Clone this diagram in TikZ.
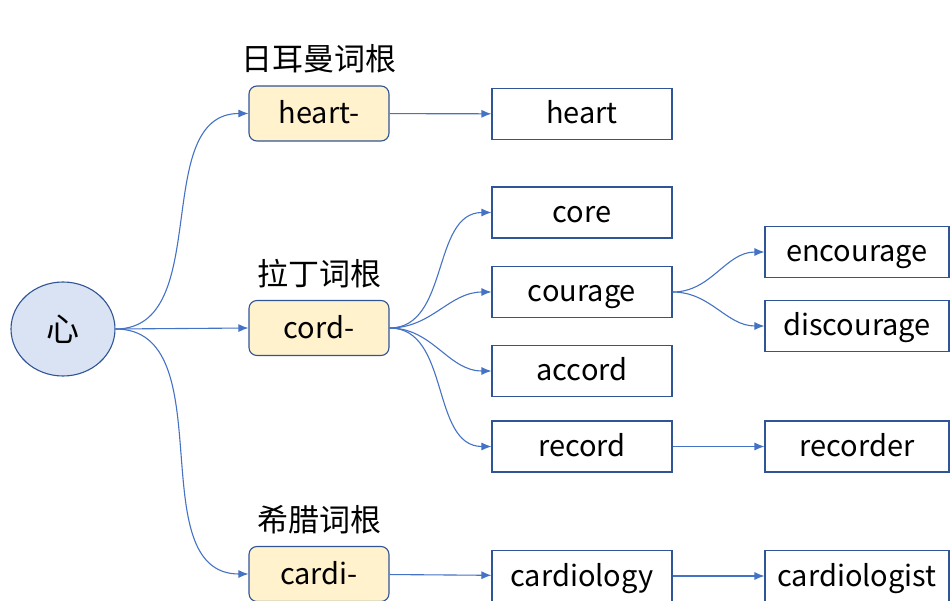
\documentclass[tikz,border=0pt]{standalone}
\usepackage{fontspec}
\setmainfont{Noto Sans CJK SC}
\usetikzlibrary{arrows.meta, positioning, shapes.geometric}
\definecolor{lineblue}{HTML}{4472C4}
\definecolor{edgeblue}{HTML}{2F5597}
\definecolor{rootfill}{HTML}{DAE3F3}
\definecolor{prefill}{HTML}{FFF2CC}
\tikzset{
  heartnode/.style={draw=edgeblue, line width=1.1pt, ellipse, fill=rootfill, minimum width=104pt, minimum height=94pt, inner sep=0pt, font=\fontsize{33}{36}\selectfont},
  rootbox/.style={draw=edgeblue, line width=1.1pt, rounded corners=8pt, fill=prefill, minimum height=55pt, minimum width=140pt, inner sep=0pt, text height=22pt, text depth=2pt, font=\fontsize{29}{32}\selectfont},
  word/.style={draw=edgeblue, line width=1.1pt, fill=white, minimum height=51pt, minimum width=180pt, inner sep=0pt, text height=22pt, text depth=2pt, font=\fontsize{29}{32}\selectfont},
  wide/.style={word, minimum width=184pt},
  tag/.style={font=\fontsize{31}{34}\selectfont, inner sep=0pt},
  arr/.style={-{Latex[length=10pt, width=8pt]}, draw=lineblue, line width=1.1pt},
}

\begin{document}
\begin{tikzpicture}[x=1pt, y=-1pt]
    \useasboundingbox (0,0) rectangle (950,601);
    \node[heartnode] (xin) at (63,329) {心};
    % roots
    \node[rootbox] (heartpre) at (319,113.5) {heart-};
    \node[rootbox] (cordpre) at (319,328) {cord-};
    \node[rootbox] (cardipre) at (319,574) {cardi-};
    \node[tag, above=12pt of heartpre] (german) {日耳曼词根};
    \node[tag, above=12pt of cordpre] (latin) {拉丁词根};
    \node[tag, above=12pt of cardipre] (greek) {希腊词根};
    % words
    \node[word] (heart) at (582,114) {heart};
    \node[word] (core) at (582,212.5) {core};
    \node[word] (courage) at (582,292) {courage};
    \node[word] (accord) at (582,371) {accord};
    \node[word] (record) at (582,446.5) {record};
    \node[word] (cardiology) at (582,576) {cardiology};
    \node[wide] (encourage) at (857,252) {encourage};
    \node[wide] (discourage) at (857,326) {discourage};
    \node[wide] (recorder) at (857,446.5) {recorder};
    \node[wide] (cardiologist) at (857,576) {cardiologist};
    % links
    \draw[arr] (xin.east) to[out=0, in=180] (heartpre.west);
    \draw[arr] (xin.east) -- (cordpre.west);
    \draw[arr] (xin.east) to[out=0, in=180] (cardipre.west);
    \draw[arr] (heartpre) -- (heart);
    \foreach \w in {core, courage, accord, record}
      \draw[arr] (cordpre.east) to[out=0, in=180] (\w.west);
    \draw[arr] (courage.east) to[out=0, in=180] (encourage.west);
    \draw[arr] (courage.east) to[out=0, in=180] (discourage.west);
    \draw[arr] (record) -- (recorder);
    \draw[arr] (cardipre) -- (cardiology);
    \draw[arr] (cardiology) -- (cardiologist);
  \end{tikzpicture}
\end{document}
